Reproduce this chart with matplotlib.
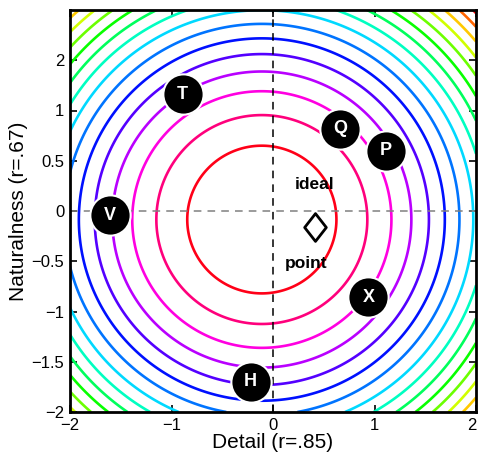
import numpy as np
import matplotlib
matplotlib.use("Agg")
import matplotlib.pyplot as plt
from matplotlib.path import Path

plt.rcParams["font.family"] = ["Liberation Sans", "DejaVu Sans"]

# ── Data ──────────────────────────────────────────────────────────────────────
# centre of the concentric preference contours and the contour levels (squared distance)
CENTER_X = -0.11
CENTER_Y = -0.085
LEVELS = [0.54, 1.08, 1.63, 2.17, 2.71, 3.25, 3.79, 4.34,
          4.88, 5.42, 5.96, 6.50, 7.05, 7.59, 8.13, 8.67]

# labelled stimuli
POINT_LABELS = ["T", "Q", "P", "V", "X", "H"]
POINT_X = [-0.89, 0.66, 1.11, -1.61, 0.94, -0.22]
POINT_Y = [1.16, 0.82, 0.60, -0.04, -0.86, -1.70]

IDEAL_X = 0.41
IDEAL_Y = -0.16

XTICKS = [-2, -1, 0, 1, 2]
XTICK_LABELS = ["\u22122", "\u22121", "0", "1", "2"]
YTICKS = [-2, -1.5, -1, -0.5, 0, 0.5, 1, 1.5]
YTICK_LABELS = ["\u22122", "\u22121.5", "\u22121", "\u22120.5", "0", "0.5", "1", "2"]

# ── Figure ────────────────────────────────────────────────────────────────────
fig = plt.figure(figsize=(4.78, 4.62), dpi=100, facecolor="white")
ax = fig.add_axes([70 / 478, 50 / 462, 406 / 478, 402 / 462])

gx, gy = np.meshgrid(np.linspace(-2, 2, 400), np.linspace(-2, 2, 400))
field = (gx - CENTER_X) ** 2 + (gy - CENTER_Y) ** 2
ax.contour(gx, gy, field, levels=LEVELS, cmap="hsv_r", linewidths=1.9, zorder=2)

# reference axes
ax.axhline(0, color="#808080", lw=1.1, ls=(0, (5, 4)), zorder=3)
ax.axvline(0, color="black", lw=1.1, ls=(0, (5, 4)), zorder=3)

# stimuli
for lab, px, py in zip(POINT_LABELS, POINT_X, POINT_Y):
    ax.plot(px, py, "o", ms=29, mfc="black", mec="white", mew=1.5, zorder=5)
    ax.text(px, py, lab, color="white", fontsize=13, fontweight="bold",
            ha="center", va="center", zorder=6)

# ideal point
diamond = Path([(0, 1), (0.78, 0), (0, -1), (-0.78, 0), (0, 1)],
               [Path.MOVETO, Path.LINETO, Path.LINETO, Path.LINETO, Path.CLOSEPOLY])
ax.plot(IDEAL_X, IDEAL_Y, marker=diamond, ms=20, mfc="white", mec="black",
        mew=2, zorder=5)
ax.text(IDEAL_X, 0.26, "ideal", fontsize=12.5, fontweight="bold",
        ha="center", va="center", zorder=6)
ax.text(0.33, -0.52, "point", fontsize=12.5, fontweight="bold",
        ha="center", va="center", zorder=6)

ax.set_xlim(-2, 2)
ax.set_ylim(-2, 2)
ax.set_xticks(XTICKS)
ax.set_xticklabels(XTICK_LABELS)
ax.set_yticks(YTICKS)
ax.set_yticklabels(YTICK_LABELS)
ax.tick_params(direction="in", length=5, width=1.2, top=True, right=True,
               labelsize=12, pad=4)
# keep the right-most x label inside the picture
ax.get_xticklabels()[-1].set_horizontalalignment("right")
ax.get_xticklabels()[-1].set_x(2.0)
for sp in ax.spines.values():
    sp.set_linewidth(2)
    sp.set_zorder(7)

ax.set_xlabel("Detail (r=.85)", fontsize=15, labelpad=0)
ax.set_ylabel("Naturalness (r=.67)", fontsize=15, labelpad=3)

fig.savefig("out.png", dpi=100, facecolor="white")
